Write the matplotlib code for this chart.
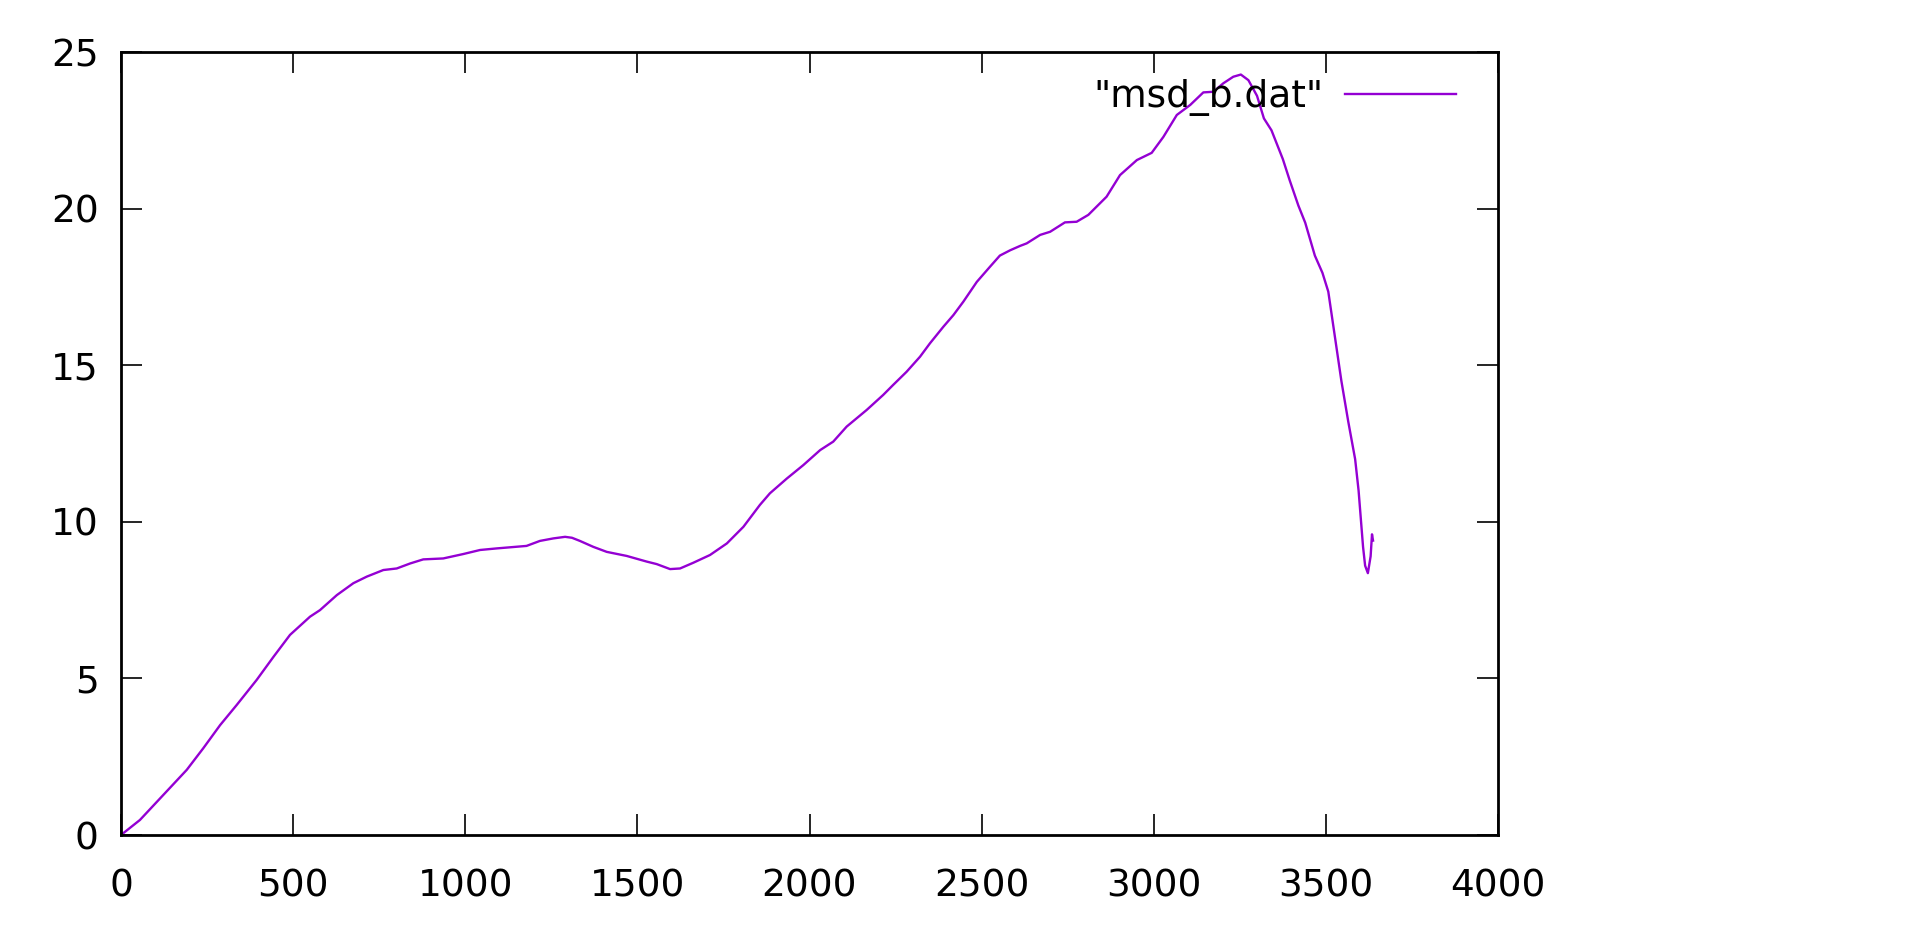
import matplotlib
matplotlib.use("Agg")
import matplotlib.pyplot as plt

# values
step = [0, 55, 123, 191, 239, 288, 336, 394, 443, 491, 549, 578, 627, 675,
        714, 762, 801, 840, 878, 936, 994, 1043, 1091, 1178, 1217, 1256, 1290,
        1310, 1333, 1372, 1411, 1469, 1527, 1556, 1595, 1624, 1662, 1711, 1760,
        1808, 1856, 1885, 1934, 1982, 2031, 2069, 2108, 2166, 2214, 2243, 2282,
        2321, 2350, 2389, 2418, 2447, 2486, 2524, 2553, 2583, 2612, 2631, 2670,
        2699, 2742, 2776, 2810, 2863, 2902, 2951, 2994, 3028, 3067, 3106, 3144,
        3173, 3202, 3231, 3253, 3275, 3300, 3320, 3342, 3375, 3395, 3420, 3440,
        3468, 3490, 3507, 3525, 3545, 3565, 3585, 3595, 3608, 3614, 3622, 3630,
        3634, 3637]
msd = [0.0, 0.48, 1.28, 2.08, 2.77, 3.51, 4.15, 4.95, 5.69, 6.39, 6.97, 7.18,
       7.66, 8.04, 8.25, 8.46, 8.51, 8.67, 8.80, 8.83, 8.97, 9.10, 9.15, 9.23,
       9.39, 9.47, 9.52, 9.49, 9.39, 9.20, 9.04, 8.91, 8.73, 8.65, 8.49, 8.51,
       8.69, 8.94, 9.31, 9.84, 10.54, 10.91, 11.38, 11.81, 12.29, 12.56, 13.04,
       13.57, 14.05, 14.37, 14.79, 15.27, 15.70, 16.23, 16.60, 17.03, 17.66,
       18.14, 18.50, 18.67, 18.81, 18.89, 19.16, 19.26, 19.56, 19.58, 19.80,
       20.38, 21.07, 21.55, 21.78, 22.29, 22.99, 23.31, 23.71, 23.73, 24.00,
       24.21, 24.28, 24.10, 23.60, 22.88, 22.50, 21.58, 20.90, 20.10, 19.55,
       18.50, 17.95, 17.35, 16.0, 14.5, 13.2, 12.0, 11.0, 9.2, 8.6, 8.36, 8.9,
       9.6, 9.4]

x_ticks = [0, 500, 1000, 1500, 2000, 2500, 3000, 3500, 4000]
y_ticks = [0, 5, 10, 15, 20, 25]

W, H = 1920, 940
plt.rcParams["font.family"] = ["DejaVu Sans"]

fig = plt.figure(figsize=(W / 100, H / 100), dpi=100)
ax = fig.add_axes([121 / W, 1 - 835 / H, (1498 - 121) / W, (835 - 52) / H])

ax.plot(step, msd, color="#9400d3", linewidth=1.7, label='"msd_b.dat"')

ax.set_xlim(0, 4000)
ax.set_ylim(0, 25)
ax.set_xticks(x_ticks)
ax.set_yticks(y_ticks)
for s in ax.spines.values():
    s.set_linewidth(2.0)
ax.tick_params(axis="both", direction="in", length=15, width=1.2,
               labelsize=27, top=True, right=True)
ax.tick_params(axis="x", pad=24)
ax.tick_params(axis="y", pad=16)

ax.legend(loc="center right", bbox_to_anchor=(1456 / W, 1 - 98 / H),
          bbox_transform=fig.transFigure, frameon=False, markerfirst=False,
          fontsize=27, handlelength=2.96, handletextpad=0.58,
          borderpad=0, borderaxespad=0)

fig.savefig("out.png", dpi=100)
